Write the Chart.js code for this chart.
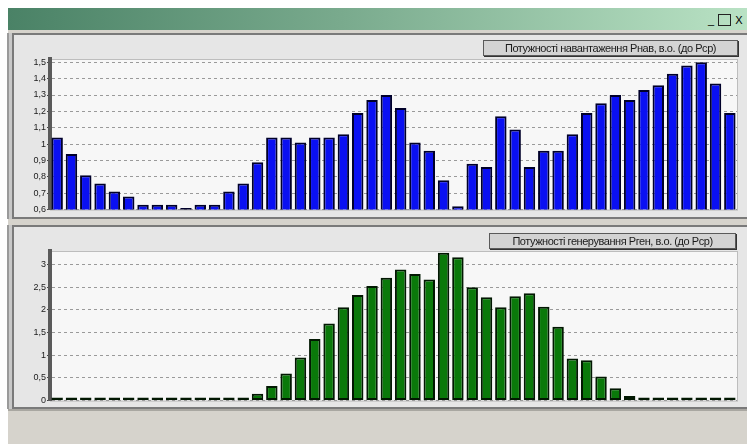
<!DOCTYPE html>
<html>
<head>
<meta charset="utf-8">
<script src="https://cdn.jsdelivr.net/npm/chart.js@4"></script>
<style>
  body { margin: 0; width: 747px; height: 444px; background: #fff; position: relative; overflow: hidden; font-family: "Liberation Sans", Arial, sans-serif; }
  #win { position: absolute; left: 8px; top: 8px; right: 0; bottom: 0; background: #d6d3cc; }
  #titlebar { position: absolute; left: 8px; top: 8px; right: 0; height: 22px; background: linear-gradient(to right, #4a8266, #79aa8d 45%, #b9e2c4); }
  .btn { position: absolute; top: 6px; height: 12px; font-size: 11px; line-height: 12px; color: #000; text-align: center; }
  .panel { position: absolute; left: 12px; right: -4px; background: #e6e6e6; border: 2px solid #7a7a7a; border-right: none; box-shadow: -3px 0 0 #c8c8c8, -5px 0 0 #9a9a9a; }
  #p1 { top: 33px; height: 182px; }
  #p2 { top: 225px; height: 180px; }
  #strip { position: absolute; left: 8px; right: 0; top: 409px; height: 2px; background: #a9a7a1; }
  canvas { position: absolute; }
  #c1 { left: 17px; top: 36px; }
  #c2 { left: 17px; top: 229px; }
  .legend { position: absolute; height: 14px; background: #d3d3d3; border: 1px solid #5a5a5a; box-shadow: 1px 1px 0 #333; font-size: 11px; line-height: 14px; color: #1a1a1a; text-align: center; white-space: nowrap; letter-spacing: -0.45px; }
  #l1 { left: 483px; top: 40px; width: 253px; }
  #l2 { left: 489px; top: 233px; width: 245px; }
</style>
</head>
<body>
<div id="win"></div>
<div id="titlebar">
  <div class="btn" style="left:698px;width:10px;">_</div>
  <div class="btn" style="left:710px;width:11px;border:1px solid #222;height:10px;top:6px;"></div>
  <div class="btn" style="left:726px;width:10px;">X</div>
</div>
<div id="p1" class="panel"></div>
<div id="p2" class="panel"></div>
<div id="strip"></div>
<canvas id="c1" width="730" height="180"></canvas>
<canvas id="c2" width="730" height="178"></canvas>
<div id="l1" class="legend">Потужності навантаження Рнав, в.о. (до Рср)</div>
<div id="l2" class="legend">Потужності генерування Рген, в.о. (до Рср)</div>
<script>
const intervals = [];
for (let i = 1; i <= 48; i++) intervals.push(i);

const loadValues = [1.04, 0.94, 0.81, 0.76, 0.71, 0.68, 0.63, 0.63, 0.63, 0.61, 0.63, 0.63, 0.71, 0.76, 0.89,
    1.04, 1.04, 1.01, 1.04, 1.04, 1.06, 1.19, 1.27, 1.30, 1.22, 1.01, 0.96, 0.78, 0.62, 0.88, 0.86,
    1.17, 1.09, 0.86, 0.96, 0.96, 1.06, 1.19, 1.25, 1.30, 1.27, 1.33, 1.36, 1.43, 1.48, 1.50, 1.37, 1.19];

const genValues = [0, 0, 0, 0, 0, 0, 0, 0, 0, 0, 0, 0, 0,
    0.07, 0.15, 0.32, 0.60, 0.95, 1.36, 1.70, 2.06, 2.33, 2.53, 2.71, 2.89, 2.79, 2.67, 3.26, 3.16,
    2.50, 2.28, 2.06, 2.30, 2.37, 2.07, 1.63, 0.93, 0.89, 0.53, 0.27, 0.10, 0.04,
    0, 0, 0, 0, 0, 0];

const loadTicks = { min: 0.6, max: 1.52, step: 0.1, count: 10 };
const genTicks = { min: 0, max: 3.3, step: 0.5, count: 7 };

const plotBg = {
    id: 'plotBg',
    beforeDraw(chart) {
        const { ctx, chartArea: a } = chart;
        ctx.save();
        ctx.fillStyle = '#f7f7f7';
        ctx.fillRect(a.left, a.top, a.right - a.left, a.bottom - a.top);
        ctx.strokeStyle = '#bdbdbd';
        ctx.lineWidth = 1;
        ctx.strokeRect(a.left + 0.5, a.top + 0.5, a.right - a.left, a.bottom - a.top);
        ctx.restore();
    }
};

const fmt = v => {
    const r = Math.round(v * 10) / 10;
    return String(r).replace('.', ',');
};

function makeChart(id, values, color, border, t, pad) {
    return new Chart(document.getElementById(id), {
        type: 'bar',
        data: {
            labels: intervals,
            datasets: [{
                data: values,
                backgroundColor: color,
                borderColor: border,
                borderWidth: 2,
                borderSkipped: false,
                minBarLength: 3,
                categoryPercentage: 1,
                barPercentage: 0.8
            }]
        },
        options: {
            responsive: false,
            animation: false,
            layout: { padding: pad },
            scales: {
                x: { display: false },
                y: {
                    min: t.min,
                    max: t.max,
                    ticks: {
                        stepSize: t.step,
                        padding: 1,
                        color: '#1a1a1a',
                        font: { family: 'Liberation Sans', size: 9 },
                        callback: fmt
                    },
                    afterBuildTicks: s => {
                        const list = [];
                        for (let i = 0; i < t.count; i++) list.push({ value: Math.round((t.min + i * t.step) * 100) / 100 });
                        s.ticks = list;
                    },
                    afterFit: s => { s.width = 33; },
                    grid: { color: '#9a9a9a', tickColor: '#444', tickLength: 3 },
                    border: { color: '#5a5a5a', width: 4, dash: [3, 3] }
                }
            },
            plugins: { legend: { display: false }, tooltip: { enabled: false } }
        },
        plugins: [plotBg]
    });
}

makeChart('c1', loadValues, '#0a10f2', '#00002a', loadTicks, { left: 0, right: 10, top: 23, bottom: 5 });
makeChart('c2', genValues, '#0a790a', '#021802', genTicks, { left: 0, right: 10, top: 22, bottom: 5 });
</script>
</body>
</html>
